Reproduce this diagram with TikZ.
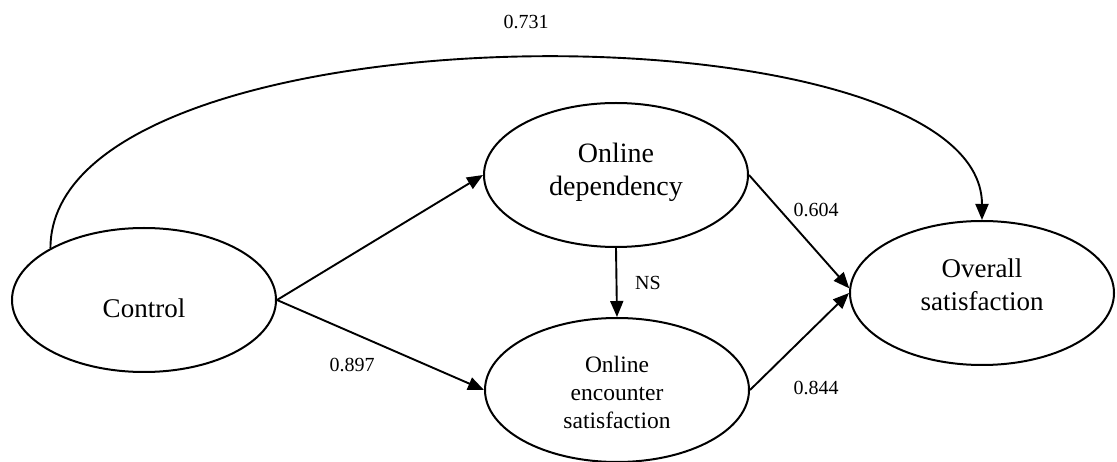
\documentclass[tikz,border=0pt]{standalone}
\usepackage{fontspec}
\setmainfont{Liberation Serif}
\usetikzlibrary{shapes.geometric,arrows.meta}
\begin{document}
\begin{tikzpicture}[x=1pt,y=-1pt,
  latent/.style={draw, ellipse, line width=2pt, minimum width=264pt, minimum height=144pt, inner sep=0pt},
  lbl/.style={align=center, inner sep=0pt},
  effect/.style={line width=1.9pt, -{Triangle[length=16pt,width=13pt]}},
  coef/.style={inner sep=0pt, font=\fontsize{20}{24}\selectfont}]
\useasboundingbox (0,0) rectangle (1117,462);

\node[latent] (ctrl) at (144,300) {};
\node[latent] (dep)  at (616,175) {};
\node[latent] (enc)  at (617,390) {};
\node[latent] (ov)   at (982,293) {};

\node[lbl, font=\fontsize{27}{32}\selectfont] (ctrlt) at (144,308) {Control};
\node[lbl, font=\fontsize{28}{33}\selectfont] (dept) at (616,172) {Online\\dependency};
\node[lbl, font=\fontsize{23.5}{28}\selectfont] (enct) at (617,392) {Online\\encounter\\satisfaction};
\node[lbl, font=\fontsize{27}{33}\selectfont] (ovt) at (982,285) {Overall\\satisfaction};

\draw[effect] (ctrl.east) -- (dep.west);
\draw[effect] (ctrl.east) -- (enc.west);
\draw[effect] (dep.south) -- (enc.north);
\draw[effect] (dep.east) -- (ov.178);
\draw[effect] (enc.east) -- (ov.west);
\draw[effect] (ctrl.151) .. controls (51,0) and (982,0) .. (ov.north);

\node[coef] (c731) at (526,22) {0.731};
\node[coef] (c897) at (352,365) {0.897};
\node[coef] (c604) at (816,210) {0.604};
\node[coef] (c844) at (816,388) {0.844};
\node[coef] (cns)  at (648,283) {NS};
\end{tikzpicture}
\end{document}
